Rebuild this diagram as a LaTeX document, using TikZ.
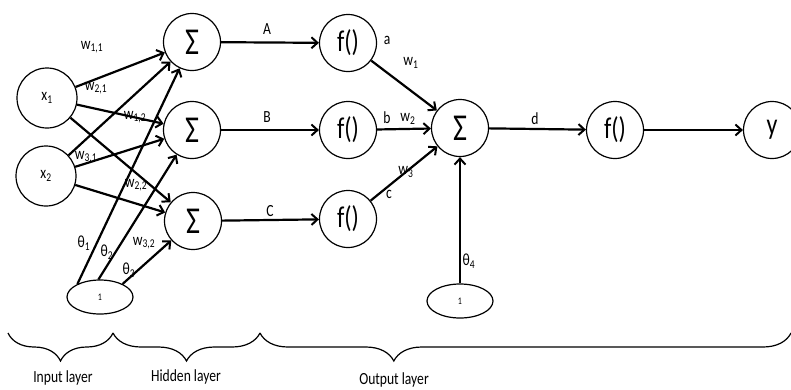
\documentclass[tikz,border=0pt]{standalone}
\usepackage{fontspec}
\setmainfont{Carlito}[FakeStretch=0.8]
\usetikzlibrary{arrows.meta,shapes.geometric,decorations.pathreplacing}
\tikzset{
  neuron/.style={draw, circle, line width=1.2pt, minimum size=57pt,
    inner sep=0pt, font=\fontsize{30}{30}\selectfont},
  inneuron/.style={draw, circle, line width=1.2pt, minimum size=60pt,
    inner sep=0pt, font=\fontsize{17}{17}\selectfont},
  biasbox/.style={draw, ellipse, line width=1.2pt, minimum width=66pt,
    minimum height=34pt, inner sep=0pt, font=\fontsize{10}{10}\selectfont},
  arr/.style={-{Straight Barb[length=6pt,width=11pt,line width=2pt]},
    line width=2.2pt},
  wlab/.style={font=\fontsize{17}{17}\selectfont, inner sep=0pt},
  layerbrace/.style={decorate, decoration={brace, amplitude=28pt},
    line width=1.2pt},
  layerlab/.style={font=\fontsize{17}{17}\selectfont},
}
\newcommand{\sub}[1]{\textsubscript{#1}}
\newcommand{\sumsign}{{\fontsize{38}{38}\selectfont Σ}}

\begin{document}
\begin{tikzpicture}[x=1pt, y=-1pt]
  \useasboundingbox (0,0) rectangle (791,389);

  % Input layer
  \node[inneuron] (x1) at (47,98) {x\sub{1}};
  \node[inneuron] (x2) at (46,176) {x\sub{2}};
  \node[biasbox] (b1) at (100,297) {1};

  % Hidden layer
  \node[neuron] (s1) at (192,42) {\sumsign};
  \node[neuron] (s2) at (192,130) {\sumsign};
  \node[neuron] (s3) at (193,221) {\sumsign};
  \node[neuron] (f1) at (348,43) {f()};
  \node[neuron] (f2) at (348,130) {f()};
  \node[neuron] (f3) at (348,219) {f()};

  % Output layer
  \node[neuron] (o) at (460,128) {\sumsign};
  \node[biasbox] (b2) at (460,301) {1};
  \node[neuron] (f4) at (615,130) {f()};
  \node[neuron] (y) at (772,130) {y};

  % Arrows
  \foreach \s in {x1,x2} {
    \foreach \t in {s1,s2,s3} {
      \draw[arr] (\s) -- (\t);
    }
  }
  \draw[arr] (b1.150) -- (s1);
  \draw[arr] (b1.95) -- (s2);
  \draw[arr] (b1.30) -- (s3);
  \foreach \s/\t in {s1/f1, s2/f2, s3/f3, f1/o, f2/o, f3/o, b2/o, o/f4, f4/y} {
    \draw[arr] (\s) -- (\t);
  }

  % Weight and bias labels
  \node[wlab] at (92,47) {w\sub{1,1}};
  \node[wlab] at (96,88) {w\sub{2,1}};
  \node[wlab] at (135,117) {w\sub{1,2}};
  \node[wlab] at (86,157) {w\sub{3,1}};
  \node[wlab] at (136,185) {w\sub{2,2}};
  \node[wlab] at (144,243) {w\sub{3,2}};
  \node[wlab] at (84,243) {θ\sub{1}};
  \node[wlab] at (107,252) {θ\sub{2}};
  \node[wlab] at (129,270) {θ\sub{3}};
  \node[wlab] at (469,261) {θ\sub{4}};

  \node[wlab] at (267,29) {A};
  \node[wlab] at (267,117) {B};
  \node[wlab] at (270,211) {C};
  \node[wlab] at (387,40) {a};
  \node[wlab] at (411,63) {w\sub{1}};
  \node[wlab] at (387,118) {b};
  \node[wlab] at (408,119) {w\sub{2}};
  \node[wlab] at (406,172) {w\sub{3}};
  \node[wlab] at (389,194) {c};
  \node[wlab] at (535,119) {d};

  % Layer braces
  \draw[layerbrace] (113,333) -- (8,333);
  \draw[layerbrace] (260,333) -- (113,333);
  \draw[layerbrace, decoration={aspect=0.748}] (791,333) -- (260,333);
  \node[layerlab] (inl) at (63,378) {Input layer};
  \node[layerlab] (hidl) at (186,377) {Hidden layer};
  \node[layerlab] (outl) at (394,380) {Output layer};
\end{tikzpicture}
\end{document}
